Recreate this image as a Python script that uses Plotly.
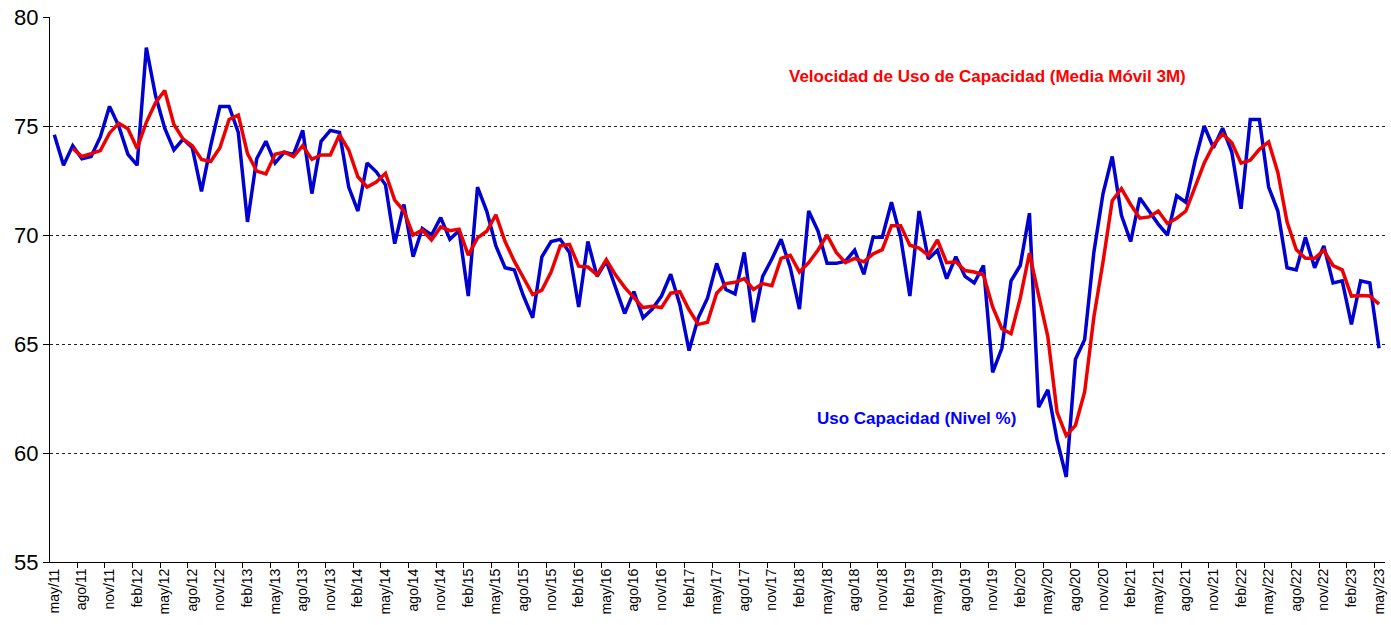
import plotly.graph_objects as go

# Monthly categories may/11 .. may/23
MONTHS_ES = ["ene", "feb", "mar", "abr", "may", "jun", "jul", "ago", "sep", "oct", "nov", "dic"]
categories = []
for k in range(145):
    m = (4 + k) % 12
    y = 11 + (4 + k) // 12
    categories.append(f"{MONTHS_ES[m]}/{y:02d}")

uso_capacidad = [
    74.6, 73.2, 74.1, 73.5, 73.6, 74.5, 75.9, 75.0, 73.7, 73.2,
    78.6, 76.4, 74.9, 73.9, 74.4, 74.0, 72.0, 74.1, 75.9, 75.9,
    74.7, 70.6, 73.5, 74.3, 73.3, 73.8, 73.7, 74.8, 71.9, 74.3,
    74.8, 74.7, 72.2, 71.1, 73.3, 72.9, 72.3, 69.6, 71.4, 69.0,
    70.3, 70.0, 70.8, 69.8, 70.2, 67.2, 72.2, 71.1, 69.5, 68.5,
    68.4, 67.2, 66.2, 69.0, 69.7, 69.8, 69.2, 66.7, 69.7, 68.1,
    68.8, 67.6, 66.4, 67.4, 66.2, 66.6, 67.2, 68.2, 66.8, 64.7,
    66.2, 67.1, 68.7, 67.5, 67.3, 69.2, 66.0, 68.1, 68.9, 69.8,
    68.5, 66.6, 71.1, 70.2, 68.7, 68.7, 68.8, 69.3, 68.2, 69.9,
    69.9, 71.5, 69.9, 67.2, 71.1, 68.9, 69.3, 68.0, 69.0, 68.1,
    67.8, 68.6, 63.7, 64.8, 67.9, 68.6, 71.0, 62.1, 62.9, 60.6,
    58.9, 64.3, 65.2, 69.2, 71.9, 73.6, 70.9, 69.7, 71.7, 71.1,
    70.5, 70.0, 71.8, 71.5, 73.4, 75.0, 74.0, 74.9, 73.8, 71.2,
    75.3, 75.3, 72.2, 71.1, 68.5, 68.4, 69.9, 68.5, 69.5, 67.8,
    67.9, 65.9, 67.9, 67.8, 64.8,
]

media_movil_3m = [
    None, None, 73.97, 73.60, 73.73, 73.87, 74.67, 75.13, 74.87, 73.97,
    75.17, 76.07, 76.63, 75.07, 74.40, 74.10, 73.47, 73.37, 74.00, 75.30,
    75.50, 73.73, 72.93, 72.80, 73.70, 73.80, 73.60, 74.10, 73.47, 73.67,
    73.67, 74.60, 73.90, 72.67, 72.20, 72.43, 72.83, 71.60, 71.10, 70.00,
    70.23, 69.77, 70.37, 70.20, 70.27, 69.07, 69.87, 70.17, 70.93, 69.70,
    68.80, 68.03, 67.27, 67.47, 68.30, 69.50, 69.57, 68.57, 68.53, 68.17,
    68.87, 68.17, 67.60, 67.13, 66.67, 66.73, 66.67, 67.33, 67.40, 66.57,
    65.90, 66.00, 67.33, 67.77, 67.83, 68.00, 67.50, 67.77, 67.67, 68.93,
    69.07, 68.30, 68.73, 69.30, 70.00, 69.20, 68.73, 68.93, 68.77, 69.13,
    69.33, 70.43, 70.43, 69.53, 69.40, 69.07, 69.77, 68.73, 68.77, 68.37,
    68.30, 68.17, 66.70, 65.70, 65.47, 67.10, 69.17, 67.23, 65.33, 61.87,
    60.80, 61.27, 62.80, 66.23, 68.77, 71.57, 72.13, 71.40, 70.77, 70.83,
    71.10, 70.53, 70.77, 71.10, 72.23, 73.30, 74.13, 74.63, 74.23, 73.30,
    73.43, 73.93, 74.27, 72.87, 70.60, 69.33, 68.93, 68.93, 69.30, 68.60,
    68.40, 67.20, 67.23, 67.20, 66.83,
]

y_ticks = [55, 60, 65, 70, 75, 80]

FONT = "Liberation Sans, Arial, sans-serif"
BLUE = "#0000D0"
RED = "#EE0000"

fig = go.Figure()
fig.add_trace(go.Scatter(
    x=categories, y=uso_capacidad, mode="lines",
    line=dict(color=BLUE, width=3.5), name="Uso Capacidad (Nivel %)",
))
fig.add_trace(go.Scatter(
    x=categories, y=media_movil_3m, mode="lines",
    line=dict(color=RED, width=3.5), name="Velocidad de Uso de Capacidad (Media Móvil 3M)",
))

fig.update_layout(
    width=1391, height=625,
    margin=dict(l=50, r=6, t=17, b=63, autoexpand=False),
    paper_bgcolor="white", plot_bgcolor="white",
    showlegend=False,
    font=dict(family=FONT, color="black"),
)
fig.update_xaxes(
    type="category",
    automargin=False,
    range=[-0.47, 144.65],
    tickmode="linear", tick0=0, dtick=3,
    tickson="boundaries",
    tickangle=-90,
    ticks="outside", ticklen=5, tickcolor="black",
    tickfont=dict(size=14, family=FONT),
    showgrid=False,
    showline=True, linecolor="black", linewidth=1,
    zeroline=False,
)
fig.update_yaxes(
    automargin=False,
    range=[55, 80],
    tickvals=y_ticks,
    ticks="outside", ticklen=6, tickcolor="black",
    tickfont=dict(size=22, family=FONT),
    ticklabelstandoff=0,
    showgrid=True, gridcolor="#222222", gridwidth=1, griddash="dot",
    showline=True, linecolor="black", linewidth=1,
    zeroline=False,
)

fig.add_annotation(
    xref="paper", yref="paper", x=0.702, y=0.890, xanchor="center", yanchor="middle",
    text="<b>Velocidad de Uso de Capacidad (Media Móvil 3M)</b>",
    showarrow=False, font=dict(size=17, color="#FF0000", family=FONT),
)
fig.add_annotation(
    xref="paper", yref="paper", x=0.649, y=0.264, xanchor="center", yanchor="middle",
    text="<b>Uso Capacidad (Nivel %)</b>",
    showarrow=False, font=dict(size=17, color="#0000FF", family=FONT),
)

fig.write_html(
    "out.html",
    config={"displayModeBar": False},
    post_script="document.body.style.margin='0';document.body.style.overflow='hidden';",
)
